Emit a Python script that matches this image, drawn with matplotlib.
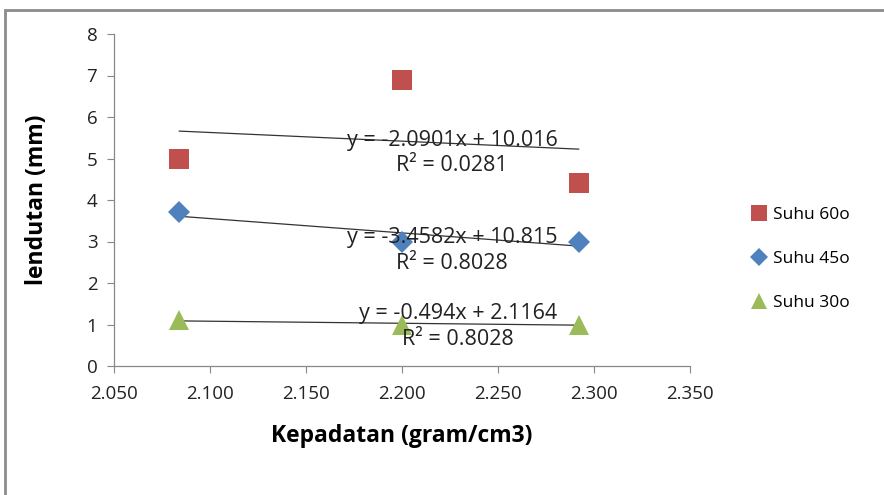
import matplotlib
matplotlib.use("Agg")
import matplotlib.pyplot as plt
from matplotlib.patches import Rectangle

plt.rcParams['font.family'] = ['Open Sans', 'DejaVu Sans']

x_vals = [2.084, 2.200, 2.292]
suhu60 = [5.0, 6.9, 4.4]
suhu45 = [3.7, 3.0, 3.0]
suhu30 = [1.1, 1.0, 1.0]
labels = ['Suhu 60o', 'Suhu 45o', 'Suhu 30o']
slopes = [-2.0901, -3.4582, -0.494]
intercepts = [10.016, 10.815, 2.1164]
eq_texts = ['y = -2.0901x + 10.016', 'y = -3.4582x + 10.815', 'y = -0.494x + 2.1164']
r2_texts = ['R² = 0.0281', 'R² = 0.8028', 'R² = 0.8028']
eq_pos = [(2.226, 5.43), (2.226, 3.09), (2.229, 1.26)]
r2_pos = [(2.226, 4.84), (2.226, 2.48), (2.229, 0.63)]
xticks = [2.050, 2.100, 2.150, 2.200, 2.250, 2.300, 2.350]
yticks = [0, 1, 2, 3, 4, 5, 6, 7, 8]

fig = plt.figure(figsize=(8.84, 4.95), dpi=100)
fig.patches.append(Rectangle((5/884, -0.1), 1.1, (495-10)/495 + 0.1, transform=fig.transFigure,
                             fill=False, edgecolor='#8c8c8c', linewidth=2))
ax = fig.add_axes([114/884, 1-366/495, (690-114)/884, (366-34)/495])

series = [suhu60, suhu45, suhu30]
colors = ['#C0504D', '#4F81BD', '#9BBB59']
markers = ['s', 'D', '^']
msizes = [14, 11, 15]
for ys, c, m, ms, lab in zip(series, colors, markers, msizes, labels):
    ax.plot(x_vals, ys, linestyle='none', marker=m, markersize=ms, color=c,
            markeredgewidth=0, label=lab, zorder=3)

x0, x1 = x_vals[0], x_vals[-1]
for s, b in zip(slopes, intercepts):
    ax.plot([x0, x1], [s*x0 + b, s*x1 + b], color='#333333', linewidth=0.9, zorder=2)

for t, (px, py) in zip(eq_texts, eq_pos):
    ax.text(px, py, t, ha='center', va='center', fontsize=15.5, color='#222222', zorder=4)
for t, (px, py) in zip(r2_texts, r2_pos):
    ax.text(px, py, t, ha='center', va='center', fontsize=15.5, color='#222222', zorder=4)

ax.set_xlim(2.050, 2.350)
ax.set_ylim(0, 8)
ax.set_xticks(xticks)
ax.set_xticklabels(['%.3f' % v for v in xticks])
ax.set_yticks(yticks)
for sp in ['top', 'right']:
    ax.spines[sp].set_visible(False)
for sp in ['left', 'bottom']:
    ax.spines[sp].set_color('#888888')
    ax.spines[sp].set_linewidth(0.9)
ax.tick_params(direction='out', length=5, color='#888888', labelsize=13.5, labelcolor='#222222')
ax.tick_params(axis='x', pad=9)
ax.tick_params(axis='y', pad=7)
ax.set_xlabel('Kepadatan (gram/cm3)', fontsize=16.5, fontweight='bold', labelpad=15)
ax.set_ylabel('lendutan (mm)', fontsize=16.5, fontweight='bold', labelpad=27)

ax.legend(loc='upper left', bbox_to_anchor=(742/884, 1-198/495), bbox_transform=fig.transFigure,
          frameon=False, fontsize=12.5, handlelength=1.0, handletextpad=0.3, labelspacing=1.6,
          borderpad=0, markerscale=0.8)

fig.savefig('out.png', dpi=100)
